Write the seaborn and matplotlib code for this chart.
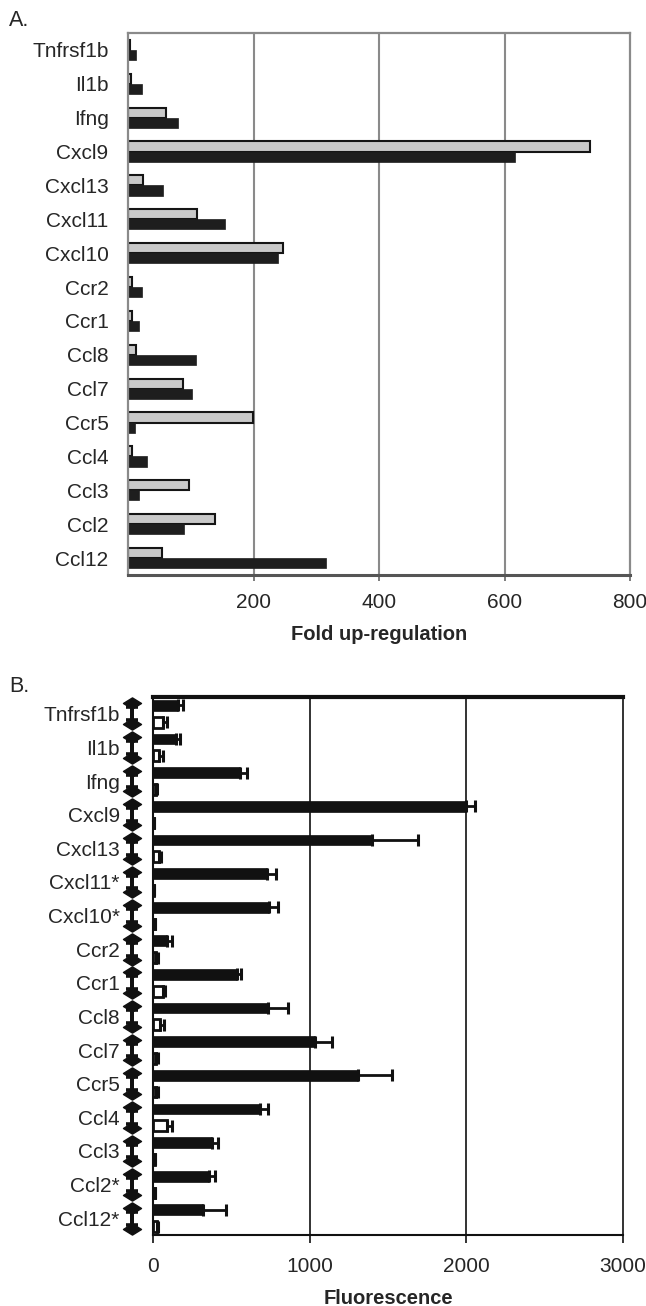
import numpy as np
import pandas as pd
import matplotlib
matplotlib.use("Agg")
import matplotlib.pyplot as plt
import matplotlib.transforms as mtransforms
from matplotlib.path import Path
from matplotlib.container import BarContainer
import seaborn as sns

# ---------------- data ----------------
genes_a = ["Tnfrsf1b", "Il1b", "Ifng", "Cxcl9", "Cxcl13", "Cxcl11", "Cxcl10", "Ccr2",
           "Ccr1", "Ccl8", "Ccl7", "Ccr5", "Ccl4", "Ccl3", "Ccl2", "Ccl12"]
fold_gray = [3, 4, 61, 736, 24, 110, 247, 7, 7, 13, 87, 199, 7, 98, 138, 54]
fold_black = [12, 22, 79, 616, 56, 155, 239, 22, 18, 108, 102, 11, 31, 18, 89, 316]
xticks_a = [200, 400, 600, 800]

genes_b = ["Tnfrsf1b", "Il1b", "Ifng", "Cxcl9", "Cxcl13", "Cxcl11*", "Cxcl10*", "Ccr2",
           "Ccr1", "Ccl8", "Ccl7", "Ccr5", "Ccl4", "Ccl3", "Ccl2*", "Ccl12*"]
fluor_black = [160, 145, 554, 2000, 1398, 726, 739, 92, 533, 733, 1037, 1306, 681, 377, 356, 322]
err_black = [30, 29, 45, 53, 296, 58, 60, 29, 26, 130, 108, 219, 55, 35, 40, 142]
fluor_white = [66, 40, 16, 8, 40, 8, 10, 16, 61, 47, 21, 21, 87, 10, 12, 28]
err_white = [26, 26, 10, 0, 13, 0, 0, 18, 18, 22, 8, 11, 32, 0, 0, 6]
xticks_b = [0, 1000, 2000, 3000]

# ---------------- style ----------------
sns.set_theme(style="white")
plt.rcParams["font.family"] = ["Liberation Sans", "DejaVu Sans"]

fig = plt.figure(figsize=(6.46, 13.06), dpi=100)
W, H = 646, 1306


def rect(l, t, r, b):
    return [l / W, 1 - b / H, (r - l) / W, (b - t) / H]


# ================= Panel A =================
axA = fig.add_axes(rect(128, 33, 630, 575))
dfA = pd.DataFrame({
    "gene": genes_a * 2,
    "value": fold_gray + fold_black,
    "series": ["Series 1"] * len(genes_a) + ["Series 2"] * len(genes_a),
})
sns.barplot(data=dfA, y="gene", x="value", hue="series", orient="h",
            palette=["#c9c9c9", "#1e1e1e"], width=0.6, ax=axA, legend=False,
            errorbar=None)
barsA = [c for c in axA.containers if isinstance(c, BarContainer)]
for i, cont in enumerate(barsA):
    for p in cont:
        if i == 0:
            p.set_edgecolor("#151515")
            p.set_linewidth(1.5)
        else:
            p.set_edgecolor("#1e1e1e")
            p.set_linewidth(0.5)

axA.set_xlim(0, 800)
axA.set_ylim(len(genes_a) - 0.5, -0.5)
axA.set_xticks(xticks_a)
axA.set_xticklabels([str(v) for v in xticks_a], fontsize=15)
axA.tick_params(axis="x", length=4, width=1.2, color="#666666", pad=9, bottom=True)
axA.tick_params(axis="y", length=0, pad=14, labelsize=15)
for v in xticks_a[:-1]:
    axA.axvline(v, color="#8a8a8a", lw=1.5, zorder=0)
for s in ["left", "right", "top"]:
    axA.spines[s].set_color("#8a8a8a")
    axA.spines[s].set_linewidth(1.6)
axA.spines["bottom"].set_color("#555555")
axA.spines["bottom"].set_linewidth(2.2)
axA.set_ylabel("")
axA.set_xlabel("Fold up-regulation", fontsize=14.5, fontweight="bold", labelpad=9)

fig.text(9 / W, 1 - 21 / H, "A.", fontsize=15.5, va="center", ha="left")

# ================= Panel B =================
axB = fig.add_axes(rect(153, 697, 623, 1235))
dfB = pd.DataFrame({
    "gene": genes_b * 2,
    "value": fluor_black + fluor_white,
    "series": ["Series 1"] * len(genes_b) + ["Series 2"] * len(genes_b),
})
sns.barplot(data=dfB, y="gene", x="value", hue="series", orient="h",
            palette=["#111111", "#ffffff"], width=1.0, gap=0.36, ax=axB,
            legend=False, errorbar=None)
barsB = [c for c in axB.containers if isinstance(c, BarContainer)]
errs = [err_black, err_white]
vals = [fluor_black, fluor_white]
for i, cont in enumerate(barsB):
    centers = []
    for p in cont:
        p.set_edgecolor("#111111")
        p.set_linewidth(2.0 if i == 1 else 0.5)
        centers.append(p.get_y() + p.get_height() / 2)
    e = np.array(errs[i], dtype=float)
    axB.errorbar(vals[i], centers, xerr=[np.zeros_like(e), e], fmt="none",
                 ecolor="#111111", elinewidth=2.0, capsize=4.2, capthick=2.2,
                 zorder=5)

axB.set_xlim(0, 3000)
axB.set_ylim(len(genes_b) - 0.5, -0.5)
axB.set_xticks(xticks_b)
axB.set_xticklabels([str(v) for v in xticks_b], fontsize=15)
axB.tick_params(axis="x", length=6, width=1.2, color="#111111", pad=10, bottom=True)
axB.tick_params(axis="y", length=0, pad=24, labelsize=15)
for v in xticks_b[1:-1]:
    axB.axvline(v, color="#111111", lw=1.2, zorder=0)
for s in ["left", "bottom"]:
    axB.spines[s].set_color("#111111")
    axB.spines[s].set_linewidth(1.5)
axB.spines["right"].set_color("#111111")
axB.spines["right"].set_linewidth(1.2)
axB.spines["top"].set_color("#111111")
axB.spines["top"].set_linewidth(3.0)
axB.set_ylabel("")
axB.set_xlabel("Fluorescence", fontsize=14.5, fontweight="bold", labelpad=9)

# diamond-ended I-beam glyphs left of the axis (one per category)
trans = mtransforms.blended_transform_factory(axB.transAxes, axB.transData)
diamond = Path([(-1, 0), (0, 0.62), (1, 0), (0, -0.62), (-1, 0)],
               [Path.MOVETO, Path.LINETO, Path.LINETO, Path.LINETO, Path.CLOSEPOLY])
gx = -0.045
for i in range(len(genes_b)):
    axB.plot([gx, gx], [i - 0.31, i + 0.31], transform=trans, color="#111111",
             lw=2.8, clip_on=False, zorder=6)
    axB.plot([gx, gx], [i - 0.31, i + 0.31], transform=trans, linestyle="none",
             marker=diamond, markersize=13, color="#111111", clip_on=False, zorder=6)
    axB.errorbar([gx], [i], yerr=[[0.19], [0.19]], transform=trans, fmt="none",
                 ecolor="#111111", elinewidth=2.8, capsize=4.0, capthick=2.6,
                 clip_on=False, zorder=6)

fig.text(9 / W, 1 - 687 / H, "B.", fontsize=15.5, va="center", ha="left")

fig.savefig("out.png", dpi=100, facecolor="white")
